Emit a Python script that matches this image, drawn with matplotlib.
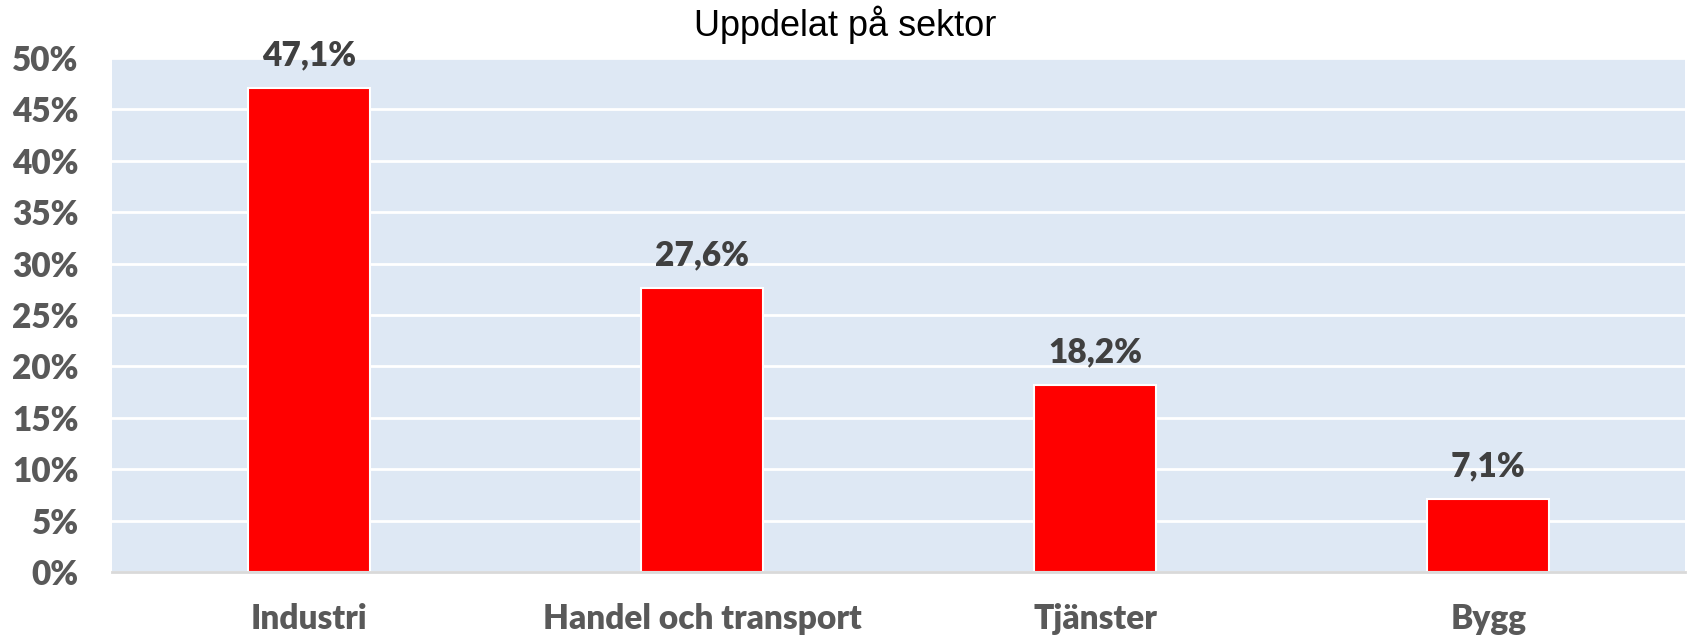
import matplotlib.pyplot as plt
from matplotlib.ticker import FuncFormatter

# Data
categories = ['Industri', 'Handel och transport', 'Tjänster', 'Bygg']
values = [47.1, 27.6, 18.2, 7.1]
labels = ['47,1%', '27,6%', '18,2%', '7,1%']
yticks = [0, 5, 10, 15, 20, 25, 30, 35, 40, 45, 50]

fig = plt.figure(figsize=(16.9, 6.41), dpi=100)
ax = fig.add_axes([0.0663, 0.1076, 0.9307, 0.8019])
ax.set_facecolor('#DEE8F4')

x = range(len(categories))
bars = ax.bar(x, values, width=0.31, color='#FF0000', edgecolor='white', linewidth=1.5, zorder=3)

for b, lab in zip(bars, labels):
    ax.annotate(lab, (b.get_x() + b.get_width() / 2, b.get_height()),
                xytext=(0, 12), textcoords='offset points', ha='center', va='bottom',
                fontsize=24, fontweight='heavy', color='#404040', family='Lato')

ax.set_xlim(-0.5, len(categories) - 0.5)
ax.set_ylim(0, 50)
ax.set_yticks(yticks)
ax.yaxis.set_major_formatter(FuncFormatter(lambda v, p: f'{v:.0f}%'))
ax.set_xticks(list(x))
ax.set_xticklabels(categories)
ax.grid(axis='y', color='white', linewidth=2, zorder=1)
ax.set_axisbelow(True)

for s in ['top', 'right', 'left']:
    ax.spines[s].set_visible(False)
ax.spines['bottom'].set_color('#D9D9D9')
ax.spines['bottom'].set_linewidth(2)
ax.spines['bottom'].set_zorder(4)

ax.tick_params(axis='both', length=0)
ax.tick_params(axis='y', pad=24)
ax.tick_params(axis='x', pad=22)
for t in ax.get_yticklabels() + ax.get_xticklabels():
    t.set_fontfamily('Lato')
    t.set_fontweight('heavy')
    t.set_fontsize(24)
    t.set_color('#595959')

fig.text(0.5, 0.962, 'Uppdelat på sektor', ha='center', va='center',
         fontsize=26, family='Liberation Sans', color='black')

plt.savefig('out.png', dpi=100)
